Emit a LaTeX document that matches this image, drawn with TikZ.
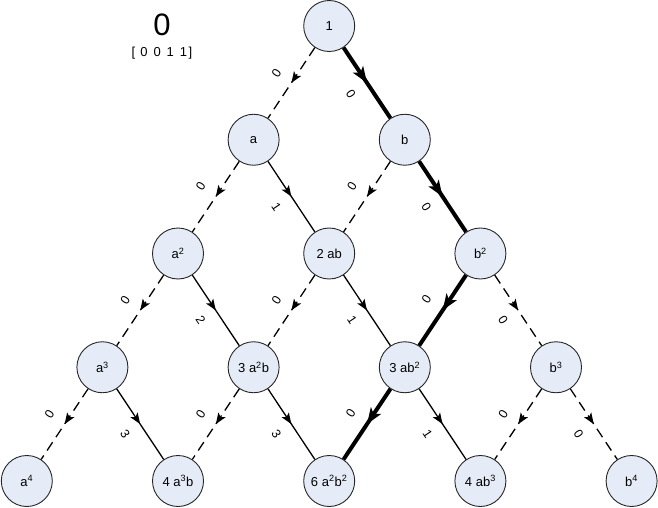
\documentclass[tikz,border=0pt]{standalone}
\usepackage{fontspec}
\setmainfont{Liberation Sans}
\usetikzlibrary{arrows.meta,decorations.markings}
\definecolor{nodefill}{RGB}{230,236,247}
\tikzset{
  nd/.style={circle, draw=black!85, line width=0.9pt, fill=nodefill, minimum size=51pt, inner sep=0pt, font=\fontsize{13}{15}\selectfont},
  midarrow/.style={postaction={decorate}, decoration={markings, mark=at position 0.5 with {\arrow{#1}}}},
  sol/.style={line width=1.3pt, midarrow={Stealth[length=11pt,width=8.5pt,inset=2.5pt]}},
  dsh/.style={sol, dash pattern=on 10pt off 6pt},
  thk/.style={line width=4pt, midarrow={Stealth[length=16pt,width=12pt,inset=4pt]}},
  lbl/.style={sloped, inner sep=0.5pt, font=\fontsize{12.5}{14}\selectfont},
  la/.style={lbl, above=12.5pt},
  lb/.style={lbl, below=12.5pt}
}
\begin{document}
\begin{tikzpicture}[x=1pt,y=-1pt]
\useasboundingbox (0,0) rectangle (658,508);
% title
\node[font=\fontsize{31}{33}\selectfont] (title) at (162,25) {0};
\node[font=\fontsize{13}{15}\selectfont] (vec) at (162,53) {[\hspace{5pt}0\hspace{6pt}0\hspace{6pt}1\hspace{6pt}1\hspace{1.5pt}]};
% row 0
\node[nd] (n00) at (329.2,26) {1};
% row 1
\node[nd] (n10) at (253.6,139.75) {a};
\node[nd] (n11) at (404.8,139.75) {b};
% row 2
\node[nd] (n20) at (178,253.5) {a\textsuperscript{2}};
\node[nd] (n21) at (329.2,253.5) {2 ab};
\node[nd] (n22) at (480.4,253.5) {b\textsuperscript{2}};
% row 3
\node[nd] (n30) at (102.4,367.25) {a\textsuperscript{3}};
\node[nd] (n31) at (253.6,367.25) {3 a\textsuperscript{2}b};
\node[nd] (n32) at (404.8,367.25) {3 ab\textsuperscript{2}};
\node[nd] (n33) at (556,367.25) {b\textsuperscript{3}};
% row 4
\node[nd] (n40) at (26.8,481) {a\textsuperscript{4}};
\node[nd] (n41) at (178,481) {4 a\textsuperscript{3}b};
\node[nd] (n42) at (329.2,481) {6 a\textsuperscript{2}b\textsuperscript{2}};
\node[nd] (n43) at (480.4,481) {4 ab\textsuperscript{3}};
\node[nd] (n44) at (631.6,481) {b\textsuperscript{4}};
% edges
\draw[dsh] (n00) -- node[la] {0} (n10);
\draw[thk] (n00) -- node[lb] {0} (n11);
\draw[dsh] (n10) -- node[la] {0} (n20);
\draw[sol] (n10) -- node[lb] {1} (n21);
\draw[dsh] (n11) -- node[la] {0} (n21);
\draw[thk] (n11) -- node[lb] {0} (n22);
\draw[dsh] (n20) -- node[la] {0} (n30);
\draw[sol] (n20) -- node[lb] {2} (n31);
\draw[dsh] (n21) -- node[la] {0} (n31);
\draw[sol] (n21) -- node[lb] {1} (n32);
\draw[thk] (n22) -- node[la] {0} (n32);
\draw[dsh] (n22) -- node[lb] {0} (n33);
\draw[dsh] (n30) -- node[la] {0} (n40);
\draw[sol] (n30) -- node[lb] {3} (n41);
\draw[dsh] (n31) -- node[la] {0} (n41);
\draw[sol] (n31) -- node[lb] {3} (n42);
\draw[thk] (n32) -- node[la] {0} (n42);
\draw[sol] (n32) -- node[lb] {1} (n43);
\draw[dsh] (n33) -- node[la] {0} (n43);
\draw[dsh] (n33) -- node[lb] {0} (n44);
\end{tikzpicture}
\end{document}
